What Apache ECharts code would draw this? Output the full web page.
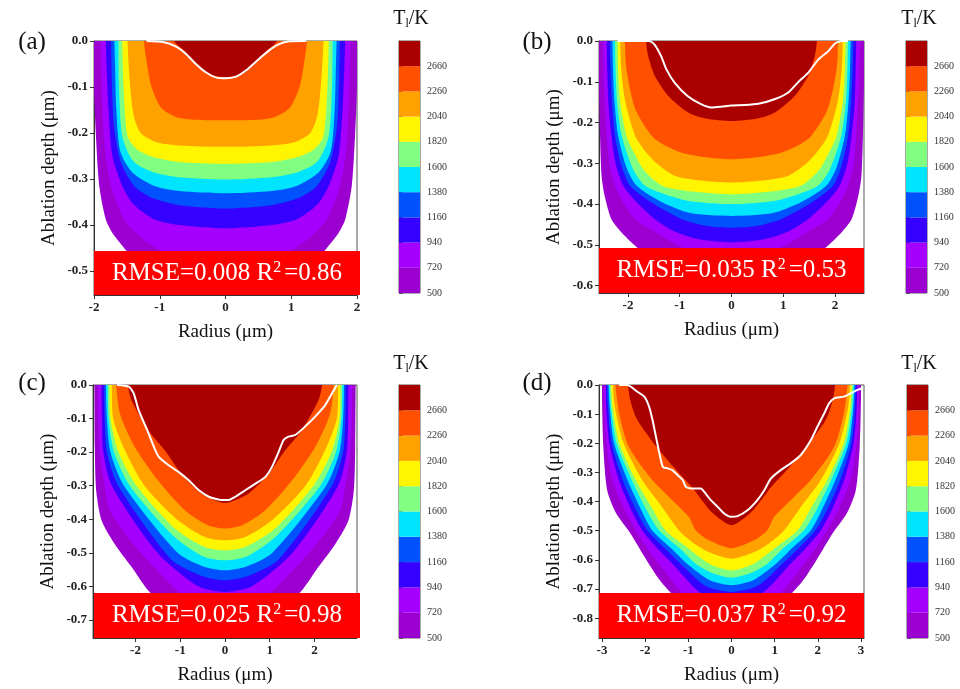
<!DOCTYPE html>
<html>

<head>
    <meta charset="utf-8" />
    <title>Ablation depth temperature contours</title>
    <style>
    html, body {
        margin: 0;
        padding: 0;
        background: #fff;
    }
    #chart {
        width: 960px;
        height: 689px;
    }
    </style>
    <script src="https://cdn.jsdelivr.net/npm/echarts@6/dist/echarts.min.js"></script>
</head>

<body>
    <div id="chart"></div>
    <script>
    // temperature levels (colour bar), lowest first
    var levels = [500, 720, 940, 1160, 1380, 1600, 1820, 2040, 2260, 2660];
    var bandColors = ['#9b00d0', '#a500ff', '#3500ff', '#0052ff', '#00e5ff', '#80ff80', '#fff500', '#ffa200', '#ff5000', '#aa0000'];
    var cbIndex = [0, 1, 2, 3, 4, 5, 6, 7, 8, 9];

    // tick values
    var xTicksA = [-2, -1, 0, 1, 2];
    var xTicksB = [-2, -1, 0, 1, 2];
    var xTicksC = [-2, -1, 0, 1, 2];
    var xTicksD = [-3, -2, -1, 0, 1, 2, 3];
    var yTicksA = [0, -0.1, -0.2, -0.3, -0.4, -0.5];
    var yTicksB = [0, -0.1, -0.2, -0.3, -0.4, -0.5, -0.6];
    var yTicksC = [0, -0.1, -0.2, -0.3, -0.4, -0.5, -0.6, -0.7];
    var yTicksD = [0, -0.1, -0.2, -0.3, -0.4, -0.5, -0.6, -0.7, -0.8];

    var panelTags = ['(a)', '(b)', '(c)', '(d)'];
    var rmseValues = ['0.008', '0.035', '0.025', '0.037'];
    var r2Values = ['0.86', '0.53', '0.98', '0.92'];

    // contour lines, one per level (500 ... 2660), half profile [radius, depth] from centre to surface
    var contoursA = [
        [[0, -0.57], [0.8, -0.55], [1.25, -0.5], [1.5, -0.457], [1.72, -0.417], [1.82, -0.388], [1.92, -0.315], [1.97, -0.207], [2.0, -0.1], [2.0, 0]],
        [[0, -0.49], [0.6, -0.48], [0.98, -0.457], [1.3, -0.425], [1.54, -0.388], [1.74, -0.315], [1.84, -0.23], [1.88, -0.12], [1.9, 0]],
        [[0, -0.407], [0.7, -0.4], [1.08, -0.388], [1.4, -0.355], [1.57, -0.315], [1.72, -0.25], [1.78, -0.15], [1.81, -0.05], [1.82, 0]],
        [[0, -0.364], [0.7, -0.357], [1.1, -0.342], [1.39, -0.315], [1.6, -0.26], [1.7, -0.18], [1.73, -0.08], [1.74, 0]],
        [[0, -0.331], [0.7, -0.326], [1.08, -0.315], [1.42, -0.285], [1.6, -0.24], [1.66, -0.15], [1.68, -0.05], [1.69, 0]],
        [[0, -0.301], [0.7, -0.296], [1.1, -0.285], [1.4, -0.262], [1.57, -0.207], [1.62, -0.1], [1.63, 0]],
        [[0, -0.267], [0.7, -0.263], [1.1, -0.252], [1.35, -0.235], [1.49, -0.207], [1.55, -0.1], [1.57, 0]],
        [[0, -0.23], [0.7, -0.227], [1.05, -0.22], [1.29, -0.2], [1.4, -0.16], [1.46, -0.08], [1.49, 0]],
        [[0, -0.172], [0.5, -0.171], [0.75, -0.165], [0.98, -0.145], [1.13, -0.098], [1.21, -0.035], [1.24, 0]],
        [[0, -0.078], [0.25, -0.072], [0.45, -0.05], [0.62, -0.022], [0.78, 0]]
    ];
    var contoursB = [
        [[0, -0.61], [0.9, -0.59], [1.5, -0.54], [1.86, -0.502], [2.12, -0.47], [2.32, -0.437], [2.45, -0.38], [2.51, -0.331], [2.54, -0.233], [2.56, -0.1], [2.56, 0]],
        [[0, -0.54], [0.5, -0.53], [0.96, -0.506], [1.45, -0.47], [1.86, -0.437], [2.1, -0.395], [2.25, -0.355], [2.36, -0.3], [2.41, -0.233], [2.46, -0.12], [2.48, 0]],
        [[0, -0.494], [0.6, -0.487], [1.1, -0.467], [1.48, -0.437], [1.8, -0.4], [2.09, -0.355], [2.24, -0.3], [2.32, -0.233], [2.38, -0.15], [2.4, -0.07], [2.41, 0]],
        [[0, -0.458], [0.5, -0.453], [0.96, -0.437], [1.5, -0.4], [1.96, -0.355], [2.14, -0.3], [2.25, -0.233], [2.31, -0.15], [2.34, -0.07], [2.35, 0]],
        [[0, -0.429], [0.8, -0.422], [1.35, -0.395], [1.83, -0.355], [2.03, -0.31], [2.19, -0.233], [2.26, -0.15], [2.29, -0.07], [2.3, 0]],
        [[0, -0.4], [0.8, -0.393], [1.3, -0.375], [1.67, -0.355], [1.9, -0.315], [2.12, -0.233], [2.21, -0.15], [2.24, -0.07], [2.25, 0]],
        [[0, -0.376], [0.7, -0.37], [1.34, -0.355], [1.7, -0.315], [1.9, -0.27], [2.03, -0.233], [2.15, -0.15], [2.19, -0.07], [2.2, 0]],
        [[0, -0.347], [0.6, -0.342], [1.09, -0.331], [1.45, -0.3], [1.67, -0.27], [1.86, -0.233], [2.05, -0.15], [2.13, -0.07], [2.15, 0]],
        [[0, -0.29], [0.5, -0.285], [0.96, -0.274], [1.3, -0.255], [1.54, -0.233], [1.86, -0.167], [2.03, -0.07], [2.06, 0]],
        [[0, -0.196], [0.5, -0.19], [0.83, -0.176], [1.22, -0.135], [1.48, -0.086], [1.61, -0.037], [1.65, 0]]
    ];
    var contoursC = [
        [[0, -0.76], [1.2, -0.68], [1.72, -0.612], [2.09, -0.542], [2.47, -0.473], [2.76, -0.403], [2.88, -0.313], [2.91, -0.184], [2.92, 0]],
        [[0, -0.68], [0.7, -0.655], [1.88, -0.5], [2.55, -0.38], [2.69, -0.3], [2.8, -0.2], [2.83, -0.1], [2.84, 0]],
        [[0, -0.617], [0.6, -0.6], [1.51, -0.5], [2.53, -0.3], [2.72, -0.2], [2.75, -0.1], [2.76, 0]],
        [[0, -0.582], [0.5, -0.57], [1.2, -0.52], [2.39, -0.3], [2.64, -0.2], [2.69, -0.1], [2.7, 0]],
        [[0, -0.552], [0.5, -0.54], [1.06, -0.5], [2.26, -0.3], [2.56, -0.2], [2.64, -0.1], [2.66, 0]],
        [[0, -0.522], [0.5, -0.51], [1.15, -0.45], [2.13, -0.3], [2.48, -0.2], [2.6, -0.1], [2.62, 0]],
        [[0, -0.493], [0.45, -0.483], [1.1, -0.43], [1.98, -0.3], [2.38, -0.2], [2.56, -0.1], [2.58, 0]],
        [[0, -0.463], [0.45, -0.453], [1.05, -0.403], [1.8, -0.3], [2.24, -0.194], [2.5, -0.1], [2.53, 0]],
        [[0, -0.428], [0.38, -0.418], [0.9, -0.373], [1.5, -0.284], [2.02, -0.184], [2.35, -0.085], [2.43, 0]],
        [[0, -0.351], [0.53, -0.323], [0.98, -0.264], [1.35, -0.194], [1.72, -0.134], [2.09, -0.045], [2.17, 0]]
    ];
    var contoursD = [
        [[0, -0.87], [1.0, -0.78], [1.39, -0.716], [1.66, -0.67], [1.97, -0.6], [2.36, -0.505], [2.67, -0.441], [2.88, -0.361], [2.97, -0.212], [3.0, -0.05], [3.0, 0]],
        [[0, -0.8], [0.9, -0.75], [1.68, -0.613], [1.95, -0.56], [2.22, -0.498], [2.5, -0.42], [2.76, -0.326], [2.9, -0.2], [2.94, -0.08], [2.95, 0]],
        [[0, -0.745], [0.7, -0.715], [1.37, -0.613], [1.72, -0.56], [2.07, -0.498], [2.35, -0.42], [2.61, -0.326], [2.83, -0.2], [2.9, -0.08], [2.91, 0]],
        [[0, -0.71], [0.6, -0.69], [1.18, -0.613], [1.55, -0.56], [1.95, -0.498], [2.24, -0.42], [2.52, -0.326], [2.78, -0.2], [2.86, -0.08], [2.88, 0]],
        [[0, -0.687], [0.5, -0.67], [1.03, -0.613], [1.4, -0.56], [1.84, -0.498], [2.12, -0.42], [2.41, -0.326], [2.72, -0.2], [2.82, -0.08], [2.85, 0]],
        [[0, -0.661], [0.45, -0.645], [0.83, -0.613], [1.2, -0.56], [1.68, -0.498], [2.0, -0.42], [2.31, -0.326], [2.66, -0.2], [2.79, -0.08], [2.82, 0]],
        [[0, -0.636], [0.52, -0.613], [1.0, -0.56], [1.53, -0.498], [1.85, -0.42], [2.22, -0.326], [2.6, -0.2], [2.75, -0.08], [2.79, 0]],
        [[0, -0.596], [0.5, -0.575], [0.9, -0.54], [1.22, -0.498], [1.6, -0.42], [2.07, -0.326], [2.5, -0.2], [2.7, -0.08], [2.75, 0]],
        [[0, -0.56], [0.52, -0.533], [0.83, -0.498], [0.99, -0.452], [1.45, -0.384], [1.87, -0.32], [2.38, -0.212], [2.6, -0.1], [2.69, 0]],
        [[0, -0.481], [0.46, -0.436], [0.92, -0.35], [1.38, -0.275], [1.85, -0.19], [2.2, -0.115], [2.35, -0.05], [2.4, 0]]
    ];

    // measured ablation profiles (white lines)
    var profileA = [[-1.2, 0], [-0.95, -0.002], [-0.75, -0.012], [-0.6, -0.028], [-0.45, -0.05], [-0.3, -0.068], [-0.15, -0.079], [0, -0.081],
        [0.15, -0.078], [0.32, -0.063], [0.5, -0.04], [0.65, -0.022], [0.8, -0.008], [0.95, -0.001], [1.23, 0]];
    var profileB = [[-2.2, 0], [-1.59, 0], [-1.49, -0.008], [-1.36, -0.037], [-1.26, -0.069], [-1.1, -0.102], [-0.85, -0.135], [-0.59, -0.155],
        [-0.39, -0.163], [-0.2, -0.161], [0, -0.158], [0.25, -0.157], [0.52, -0.154], [0.83, -0.143], [1.09, -0.127], [1.28, -0.102],
        [1.48, -0.078], [1.68, -0.045], [1.87, -0.025], [2.0, -0.006], [2.13, 0], [2.25, 0]];
    var profileC = [[-2.41, 0], [-2.15, -0.005], [-2.04, -0.025], [-1.93, -0.075], [-1.74, -0.134], [-1.59, -0.184], [-1.48, -0.214],
        [-1.26, -0.239], [-1.04, -0.259], [-0.81, -0.284], [-0.59, -0.313], [-0.36, -0.333], [-0.07, -0.343], [0.08, -0.343],
        [0.23, -0.333], [0.46, -0.313], [0.68, -0.294], [0.9, -0.274], [1.05, -0.244], [1.2, -0.199], [1.31, -0.164], [1.42, -0.154],
        [1.57, -0.149], [1.79, -0.124], [2.01, -0.095], [2.24, -0.06], [2.39, -0.025], [2.5, 0]];
    var profileD = [[-2.6, 0], [-2.41, 0], [-2.33, -0.006], [-2.18, -0.023], [-2.02, -0.04], [-1.91, -0.074], [-1.83, -0.12], [-1.75, -0.178],
        [-1.67, -0.235], [-1.59, -0.281], [-1.48, -0.286], [-1.37, -0.292], [-1.25, -0.309], [-1.13, -0.326], [-1.06, -0.349],
        [-0.94, -0.355], [-0.71, -0.355], [-0.63, -0.367], [-0.48, -0.395], [-0.32, -0.418], [-0.17, -0.441], [-0.02, -0.452],
        [0.14, -0.45], [0.37, -0.43], [0.6, -0.395], [0.76, -0.361], [0.91, -0.321], [1.14, -0.292], [1.37, -0.269], [1.6, -0.241],
        [1.84, -0.189], [1.99, -0.143], [2.15, -0.097], [2.26, -0.063], [2.38, -0.046], [2.61, -0.04], [2.76, -0.029], [2.92, -0.017], [3.03, -0.011]];

    var serif = "'Liberation Serif', 'Times New Roman', serif";

    var panels = [
        { contours: contoursA, profile: profileA, xTicks: xTicksA, yTicks: yTicksA, xMax: 2.0, yMin: -0.552,
          grid: { left: 94, top: 41, width: 263, height: 254 }, cb: { left: 399, top: 41, width: 21, height: 252 },
          box: [94, 251, 266, 44], tag: [32, 42], title: [411, 19] },
        { contours: contoursB, profile: profileB, xTicks: xTicksB, yTicks: yTicksB, xMax: 2.56, yMin: -0.618,
          grid: { left: 599, top: 41, width: 265, height: 252 }, cb: { left: 906, top: 41, width: 21, height: 252 },
          box: [599, 248, 265, 45], tag: [537, 42], title: [919, 19] },
        { contours: contoursC, profile: profileC, xTicks: xTicksC, yTicks: yTicksC, xMax: 2.95, yMin: -0.754,
          grid: { left: 93, top: 385, width: 264, height: 253 }, cb: { left: 399, top: 385, width: 21, height: 253 },
          box: [94, 593, 266, 45], tag: [32, 383], title: [411, 364] },
        { contours: contoursD, profile: profileD, xTicks: xTicksD, yTicks: yTicksD, xMax: 3.07, yMin: -0.868,
          grid: { left: 599, top: 385, width: 265, height: 253 }, cb: { left: 907, top: 385, width: 21, height: 253 },
          box: [599, 593, 265, 45], tag: [537, 383], title: [919, 364] }
    ];

    var grids = [], xAxes = [], yAxes = [], series = [], graphics = [];

    // filled contour bands: each level drawn as a closed U shape, inner levels on top
    function contourSeries(k, curves) {
        return {
            type: 'custom',
            xAxisIndex: k,
            yAxisIndex: k,
            clip: true,
            silent: true,
            z: 2,
            data: curves.map(function(c) { return [0, c[0][1]]; }),
            renderItem: function(params, api) {
                var c = curves[params.dataIndex];
                var top = c[c.length - 1][0];
                var pts = [api.coord([-top, 0.04])];
                for (var j = c.length - 1; j > 0; j--) pts.push(api.coord([-c[j][0], c[j][1]]));
                for (var m = 0; m < c.length; m++) pts.push(api.coord(c[m]));
                pts.push(api.coord([top, 0.04]));
                return {
                    type: 'polygon',
                    shape: { points: pts, smooth: 0.25 },
                    style: { fill: bandColors[params.dataIndex] }
                };
            }
        };
    }

    panels.forEach(function(p, k) {
        grids.push(Object.assign({ show: true, borderColor: '#555', borderWidth: 1, backgroundColor: '#fff' }, p.grid));
        xAxes.push({
            type: 'value', gridIndex: k, min: -p.xMax, max: p.xMax,
            name: 'Radius (μm)', nameLocation: 'middle', nameGap: 28,
            nameTextStyle: { fontFamily: serif, fontSize: 19, color: '#111' },
            axisLine: { show: true, onZero: false, lineStyle: { color: '#333' } },
            axisTick: { show: true, customValues: p.xTicks, length: 4, lineStyle: { color: '#333' } },
            axisLabel: { customValues: p.xTicks, fontFamily: serif, fontSize: 13, fontWeight: 'bold', color: '#222', margin: 6 },
            splitLine: { show: false }
        });
        yAxes.push({
            type: 'value', gridIndex: k, min: p.yMin, max: 0,
            name: 'Ablation depth (μm)', nameLocation: 'middle', nameGap: 35, nameRotate: 90,
            nameTextStyle: { fontFamily: serif, fontSize: 19, color: '#111' },
            axisLine: { show: true, onZero: false, lineStyle: { color: '#333' } },
            axisTick: { show: true, customValues: p.yTicks, length: 4, lineStyle: { color: '#333' } },
            axisLabel: {
                customValues: p.yTicks, fontFamily: serif, fontSize: 13, fontWeight: 'bold', color: '#222', margin: 6,
                formatter: function(v) { return v.toFixed(1); }
            },
            splitLine: { show: false }
        });
        series.push(contourSeries(k, p.contours));
        series.push({
            type: 'line', xAxisIndex: k, yAxisIndex: k, data: p.profile, z: 3,
            symbol: 'none', smooth: 0.2, silent: true,
            lineStyle: { color: '#fff', width: 2 }
        });

        graphics.push({
            type: 'text', x: p.tag[0], y: p.tag[1],
            style: { text: panelTags[k], font: '25px ' + serif, fill: '#111', align: 'center', verticalAlign: 'middle' }
        });
        graphics.push({
            type: 'rect', z: 100,
            shape: { x: p.box[0], y: p.box[1], width: p.box[2], height: p.box[3] },
            style: { fill: '#ff0000' }
        });
        graphics.push({
            type: 'text', z: 101, x: p.box[0] + p.box[2] / 2, y: p.box[1] + p.box[3] / 2,
            style: {
                text: '{a|RMSE=' + rmseValues[k] + ' R}{s|2}{b|=' + r2Values[k] + '}',
                align: 'center', verticalAlign: 'middle',
                rich: {
                    a: { fontFamily: serif, fontSize: 25, fill: '#fff', lineHeight: 27 },
                    s: { fontFamily: serif, fontSize: 16, fill: '#fff', verticalAlign: 'top', lineHeight: 27 },
                    b: { fontFamily: serif, fontSize: 25, fill: '#fff', lineHeight: 27, padding: [0, 0, 0, 3] }
                }
            }
        });
        graphics.push({
            type: 'text', x: p.title[0], y: p.title[1],
            style: {
                text: '{t|T}{l|l}{t|/K}', align: 'center', verticalAlign: 'middle',
                rich: {
                    t: { fontFamily: serif, fontSize: 20, fill: '#111', lineHeight: 22 },
                    l: { fontFamily: serif, fontSize: 12, fill: '#111', verticalAlign: 'bottom', lineHeight: 22, padding: [8, 0, 0, 0] }
                }
            }
        });
    });

    // colour bars
    panels.forEach(function(p, k) {
        var gi = 4 + k;
        grids.push(Object.assign({ show: true, borderColor: '#555', borderWidth: 1 }, p.cb));
        xAxes.push({ type: 'value', gridIndex: gi, min: 0, max: 1, show: false });
        yAxes.push({
            type: 'value', gridIndex: gi, min: 0, max: 10, position: 'right',
            axisLine: { show: true, lineStyle: { color: '#555' } },
            axisTick: { show: true, customValues: cbIndex, length: 4, lineStyle: { color: '#555' } },
            axisLabel: {
                customValues: cbIndex, fontFamily: serif, fontSize: 10, color: '#333', margin: 7,
                formatter: function(v) { return String(levels[v]); }
            },
            splitLine: { show: false }
        });
        series.push({
            type: 'custom', xAxisIndex: gi, yAxisIndex: gi, silent: true,
            data: cbIndex.map(function(i) { return [0, i]; }),
            renderItem: function(params, api) {
                var i = api.value(1);
                var p0 = api.coord([0, i + 1]);
                var p1 = api.coord([1, i]);
                return {
                    type: 'rect',
                    shape: { x: p0[0], y: p0[1], width: p1[0] - p0[0], height: p1[1] - p0[1] },
                    style: { fill: bandColors[i] }
                };
            }
        });
    });

    var chart = echarts.init(document.getElementById('chart'));
    chart.setOption({
        animation: false,
        backgroundColor: '#fff',
        grid: grids,
        xAxis: xAxes,
        yAxis: yAxes,
        series: series,
        graphic: graphics
    });
    </script>
</body>

</html>
